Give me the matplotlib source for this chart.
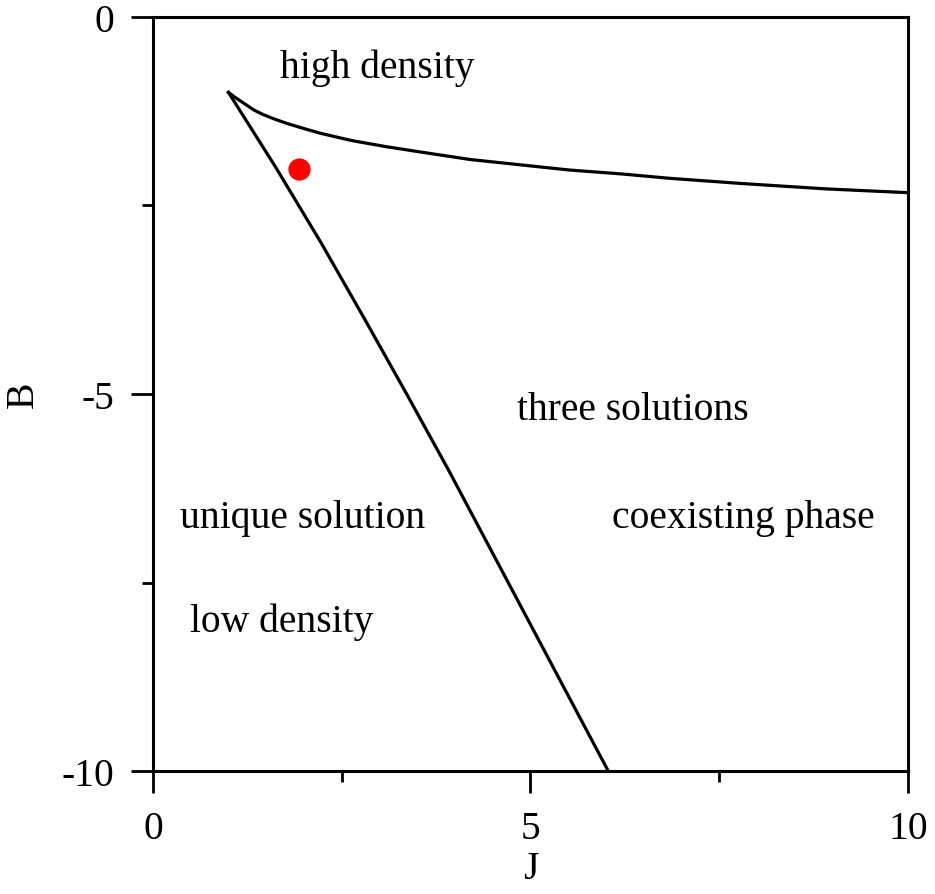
import numpy as np
import matplotlib.pyplot as plt

# phase diagram in the (J, B) plane
plt.rcParams['font.family'] = ['Liberation Serif', 'DejaVu Serif']
plt.rcParams['font.size'] = 28.5

# upper branch
J_up = [1.0, 1.08, 1.16, 1.25, 1.33, 1.45, 1.6, 1.77, 1.95, 2.21, 2.4, 2.64, 3.09, 3.54,
        4.20, 4.86, 5.52, 6.19, 6.85, 7.82, 8.92, 10.0]
B_up = [-1.0, -1.06, -1.115, -1.175, -1.23, -1.29, -1.35, -1.41, -1.465, -1.54, -1.585, -1.64,
        -1.72, -1.79, -1.89, -1.96, -2.03, -2.08, -2.14, -2.21, -2.28, -2.33]

# lower branch
J_lo = [1.0, 1.63, 2.23, 2.80, 3.36, 3.91, 4.44, 4.97, 5.50, 6.03]
B_lo = [-1.0, -2.0, -3.0, -4.0, -5.0, -6.0, -7.0, -8.0, -9.0, -10.0]

# marked point
J_pt = [1.93]
B_pt = [-2.02]

labels = ["high density", "three solutions", "unique solution", "coexisting phase", "low density"]
label_J = [1.68, 4.82, 0.36, 6.08, 0.49]
label_B = [-0.66, -5.21, -6.64, -6.64, -8.01]

fig = plt.figure(figsize=(9.35, 8.95), dpi=100)
ax = fig.add_axes([0.1636, 0.1374, 0.9711 - 0.1636, 0.9799 - 0.1374])

ax.plot(J_up, B_up, 'k-', lw=2.3)
ax.plot(J_lo, B_lo, 'k-', lw=2.3)
ax.plot(J_pt, B_pt, 'o', color='red', ms=15, mec='red')

for s, x, y in zip(labels, label_J, label_B):
    ax.text(x, y, s, ha='left', va='center')

ax.set_xlim(0, 10)
ax.set_ylim(-10, 0)
ax.set_xticks([0, 5, 10])
ax.set_yticks([-10, -5, 0])
ax.set_xticks([2.5, 7.5], minor=True)
ax.set_yticks([-7.5, -2.5], minor=True)
ax.set_xticklabels(['0', '5', '10'])
ax.set_yticklabels(['-10', '-5', '0'])
ax.tick_params(which='major', length=16, width=2, pad=12)
ax.tick_params(which='minor', length=8, width=2)
for sp in ax.spines.values():
    sp.set_linewidth(2.2)

ax.set_xlabel('J', labelpad=2)
ax.set_ylabel('B', labelpad=14)

fig.savefig('out.png', dpi=100)
